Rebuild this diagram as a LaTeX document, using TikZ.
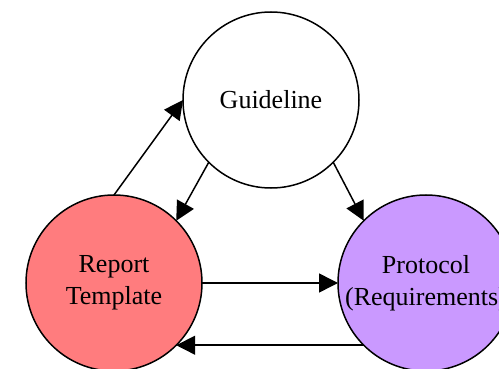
\documentclass[tikz,border=0pt]{standalone}
\usepackage{fontspec}
\setmainfont{Liberation Serif}
\usepackage{tikz}
\usetikzlibrary{arrows.meta,positioning}
\definecolor{reportred}{RGB}{255,124,126}
\definecolor{protoviolet}{RGB}{202,153,255}

\begin{document}
\begin{tikzpicture}[x=1pt, y=-1pt,
	topic/.style={circle, draw, line width=1.5pt, minimum size=176pt, inner sep=0pt, outer sep=0pt, align=center, font=\fontsize{26}{32}\selectfont},
	link/.style={line width=1.5pt, -{Triangle[length=19pt, width=19pt]}}]
	\useasboundingbox (0,0) rectangle (499,369);
	\clip (0,0) rectangle (499,369);

	\node (guide) [topic] at (271,100) {Guideline};
	\node (report) [topic, fill=reportred] at (114,283) {Report\\Template};
	\node (proto) [topic, fill=protoviolet] at (426,283) {Protocol\\(Requirements)};

	\draw [link] (report.north) to (guide.west);
	\draw [link] (guide.south west) to (report.north east);
	\draw [link] (guide.south east) to (proto.north west);
	\draw [link] (report.east) to (proto.west);
	\draw [link] (proto.south west) to (report.south east);
\end{tikzpicture}
\end{document}
